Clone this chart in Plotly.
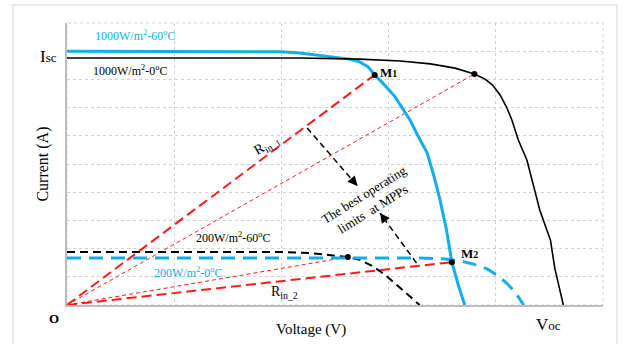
import plotly.graph_objects as go

# I-V curves of the PV module (normalised units: V on 0..5, I on 0..10)
v_1000_0 = [0, 2.17, 2.73, 3.11, 3.39, 3.62, 3.80, 3.90, 3.97, 4.04, 4.10, 4.15, 4.21, 4.29, 4.35, 4.41, 4.51, 4.55, 4.63]
i_1000_0 = [8.76, 8.76, 8.72, 8.65, 8.55, 8.40, 8.19, 8.01, 7.80, 7.45, 7.02, 6.56, 5.85, 5.14, 4.26, 3.37, 2.30, 1.31, 0]

v_1000_60 = [0, 1.82, 2.0, 2.17, 2.48, 2.64, 2.73, 2.81, 2.87, 2.97, 3.06, 3.13, 3.20, 3.27, 3.36, 3.42, 3.48, 3.54, 3.59, 3.65, 3.71]
i_1000_60 = [9.0, 9.0, 8.98, 8.94, 8.79, 8.72, 8.62, 8.44, 8.16, 7.77, 7.38, 6.99, 6.56, 6.03, 5.39, 4.61, 3.72, 2.66, 1.52, 0.71, 0]

v_200_60 = [0, 1.99, 2.27, 2.45, 2.62, 2.73, 2.85, 2.97, 3.11, 3.22, 3.29]
i_200_60 = [1.88, 1.88, 1.84, 1.77, 1.70, 1.60, 1.38, 1.06, 0.60, 0.25, 0]

v_200_0 = [0, 3.29, 3.53, 3.67, 3.79, 3.92, 4.01, 4.10, 4.18, 4.26]
i_200_0 = [1.67, 1.67, 1.63, 1.56, 1.45, 1.28, 1.06, 0.78, 0.46, 0]

# maximum power points
mpp_m1 = (2.87, 8.16)        # 1000 W/m2, 60 C
mpp_1000_0 = (3.80, 8.19)    # 1000 W/m2, 0 C
mpp_m2 = (3.59, 1.52)        # 200 W/m2, 0 C
mpp_200_60 = (2.62, 1.70)    # 200 W/m2, 60 C

BLUE = "#12aeea"
RED = "#ff1a1a"
FONT = "Liberation Serif"

fig = go.Figure()

# load lines from the origin to the MPPs
def load_line(p, width, dash):
    fig.add_trace(go.Scatter(x=[0, p[0]], y=[0, p[1]], mode="lines",
                             line=dict(color=RED, width=width, dash=dash),
                             hoverinfo="skip", showlegend=False))

load_line(mpp_m1, 2, "10px,5px")
load_line(mpp_m2, 2, "10px,5px")
load_line(mpp_1000_0, 1, "4px,3px")
load_line(mpp_200_60, 1, "4px,3px")

fig.add_trace(go.Scatter(x=v_1000_60, y=i_1000_60, mode="lines", line=dict(color=BLUE, width=3), showlegend=False))
fig.add_trace(go.Scatter(x=v_1000_0, y=i_1000_0, mode="lines", line=dict(color="black", width=1.6), showlegend=False))
fig.add_trace(go.Scatter(x=v_200_60, y=i_200_60, mode="lines", line=dict(color="black", width=2, dash="8px,5px"), showlegend=False))
fig.add_trace(go.Scatter(x=v_200_0, y=i_200_0, mode="lines", line=dict(color=BLUE, width=3, dash="14px,8px"), showlegend=False))

pts = [mpp_m1, mpp_1000_0, mpp_m2, mpp_200_60]
fig.add_trace(go.Scatter(x=[p[0] for p in pts], y=[p[1] for p in pts], mode="markers",
                         marker=dict(color="black", size=6), showlegend=False))

# dashed arrows pointing at the operating-limits label
arrows = [((2.24, 6.28), (2.71, 4.22)), ((3.26, 1.49), (2.92, 3.26))]
for (x0, y0), (x1, y1) in arrows:
    fig.add_trace(go.Scatter(x=[x0, x1], y=[y0, y1], mode="lines",
                             line=dict(color="black", width=1.5, dash="6px,4px"), showlegend=False))
    fig.add_annotation(x=x1, y=y1, ax=x0 + (x1 - x0) * 0.9, ay=y0 + (y1 - y0) * 0.9,
                       xref="x", yref="y", axref="x", ayref="y", text="",
                       showarrow=True, arrowhead=2, arrowsize=1.3, arrowwidth=1.5, arrowcolor="black")

def label(x, y, text, size=12, color="black", angle=0, ref="data"):
    xr, yr = ("x", "y") if ref == "data" else ("paper", "paper")
    fig.add_annotation(x=x, y=y, xref=xr, yref=yr, text=text, showarrow=False, textangle=angle,
                       font=dict(family=FONT, size=size, color=color))

label(0.63, 9.57, "1000W/m<sup>2</sup>-60<sup>o</sup>C", color=BLUE)
label(0.59, 8.30, "1000W/m<sup>2</sup>-0<sup>o</sup>C")
label(1.55, 2.38, "200W/m<sup>2</sup>-60<sup>o</sup>C")
label(1.13, 1.17, "200W/m<sup>2</sup>-0<sup>o</sup>C", color=BLUE)
label(3.0, 8.26, "<b>M<span style='font-size:10px'>1</span></b>", size=13)
label(3.75, 1.84, "<b>M<span style='font-size:10px'>2</span></b>", size=13)
label(1.87, 5.64, "R<sub>in_1</sub>", size=14, angle=-30)
label(2.03, 0.46, "R<sub>in_2</sub>", size=14)
label(2.81, 3.65, "The best operating<br>limits  at MPPs", size=13, angle=-32)

# labels outside the plotting area
label(-0.054, 0.923, "I<span style='font-size:13px'>sc</span>", size=17, ref="paper")
label(0.925, -0.11, "V<span style='font-size:13px'>oc</span>", size=17, ref="paper")
label(-0.037, -0.083, "<b>O</b>", size=13, ref="paper")
label(0.455, -0.124, "Voltage (V)", size=15, ref="paper")
label(-0.066, 0.5, "Current (A)", size=16, angle=-90, ref="paper")

# light frame around the whole figure
fig.add_shape(type="rect", xref="paper", yref="paper", x0=-0.1007, x1=1.026, y0=-0.2, y1=1.064,
              line=dict(color="#e3e3e3", width=1.5), layer="below")
# dashed top and right edges of the grid
fig.add_shape(type="rect", xref="paper", yref="paper", x0=0, x1=1, y0=0, y1=1,
              line=dict(color="#d0d0d0", width=1, dash="3px,3px"), layer="below")

axis_common = dict(showgrid=True, gridcolor="#d0d0d0", griddash="3px,3px", gridwidth=1,
                   showline=True, linecolor="#bdbdbd", linewidth=1.5, zeroline=False,
                   showticklabels=False, ticks="", dtick=1)
fig.update_xaxes(range=[0, 5], **axis_common)
fig.update_yaxes(range=[0, 10], **axis_common)

fig.update_layout(width=633, height=344, margin=dict(l=67, r=30, t=23, b=39),
                  plot_bgcolor="white", paper_bgcolor="white", showlegend=False)

fig.write_html("out.html")
